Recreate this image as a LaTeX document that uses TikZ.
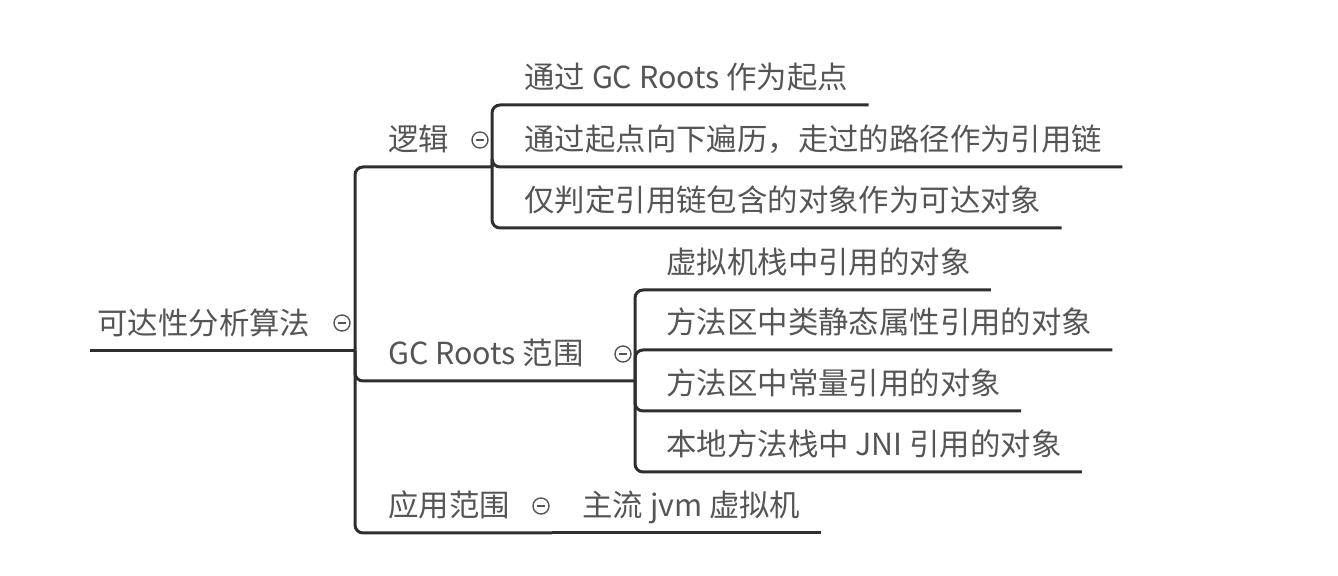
\documentclass[tikz,border=0pt]{standalone}
\usepackage{fontspec}
\setmainfont{Noto Sans CJK SC}
\definecolor{txtgray}{HTML}{555555}
\definecolor{linegray}{HTML}{2E2E2E}
\tikzstyle{junction} = [coordinate]
\tikzstyle{topic} = [anchor=south west, inner xsep=0pt, inner ysep=0pt, text height=11pt, text depth=8pt, text=txtgray, font=\fontsize{15.2}{18}\selectfont]
\tikzstyle{roottopic} = [topic, inner xsep=3.5pt]
\tikzstyle{leaf} = [topic, inner xsep=10pt]
\tikzstyle{fold} = [circle, draw=txtgray, line width=0.7pt, inner sep=0pt, minimum size=8pt, path picture={\draw[txtgray, line width=0.7pt] ([xshift=-2pt]path picture bounding box.center) -- ([xshift=2pt]path picture bounding box.center);}]
\tikzstyle{conn} = [draw=linegray, line width=1.5pt, rounded corners=4pt]
\begin{document}
\begin{tikzpicture}[x=0.5pt,y=-0.5pt]
            \useasboundingbox (0,0) rectangle (1338,576);

            \node [roottopic] (root) at (90,351) {可达性分析算法};
            \node [fold] (f0) at (342,323) {};
            \node [junction] (j0) at (355,351) {};

            \node [topic] (b1) at (388,167) {逻辑};
            \node [fold] (f1) at (480,140) {};
            \node [junction] (j1) at (492,167) {};
            \node [topic] (b2) at (388,381) {GC Roots 范围};
            \node [fold] (f2) at (623,354) {};
            \node [junction] (j2) at (635,381) {};
            \node [topic] (b3) at (388,533) {应用范围};
            \node [fold] (f3) at (541,506) {};
            \node [junction] (j3) at (552,533) {};

            \node [leaf] (l11) at (504,105) {通过 GC Roots 作为起点};
            \node [leaf] (l12) at (504,167) {通过起点向下遍历，走过的路径作为引用链};
            \node [leaf] (l13) at (504,228) {仅判定引用链包含的对象作为可达对象};

            \node [leaf] (l21) at (646,290) {虚拟机栈中引用的对象};
            \node [leaf] (l22) at (646,350) {方法区中类静态属性引用的对象};
            \node [leaf] (l23) at (646,411) {方法区中常量引用的对象};
            \node [leaf] (l24) at (646,472) {本地方法栈中 JNI 引用的对象};

            \node [leaf] (l31) at (562,533) {主流 jvm 虚拟机};

            \draw[conn] (root.south west) -- (j0);
            \draw[conn] (j0) |- (j1);
            \draw[conn] (j0) |- (j2);
            \draw[conn] (j0) |- (j3);

            \draw[conn] (j1) |- (l11.south east);
            \draw[conn] (j1) |- (l12.south east);
            \draw[conn] (j1) |- (l13.south east);

            \draw[conn] (j2) |- (l21.south east);
            \draw[conn] (j2) |- (l22.south east);
            \draw[conn] (j2) |- (l23.south east);
            \draw[conn] (j2) |- (l24.south east);

            \draw[conn] (j3) -- (l31.south east);
\end{tikzpicture}
\end{document}
